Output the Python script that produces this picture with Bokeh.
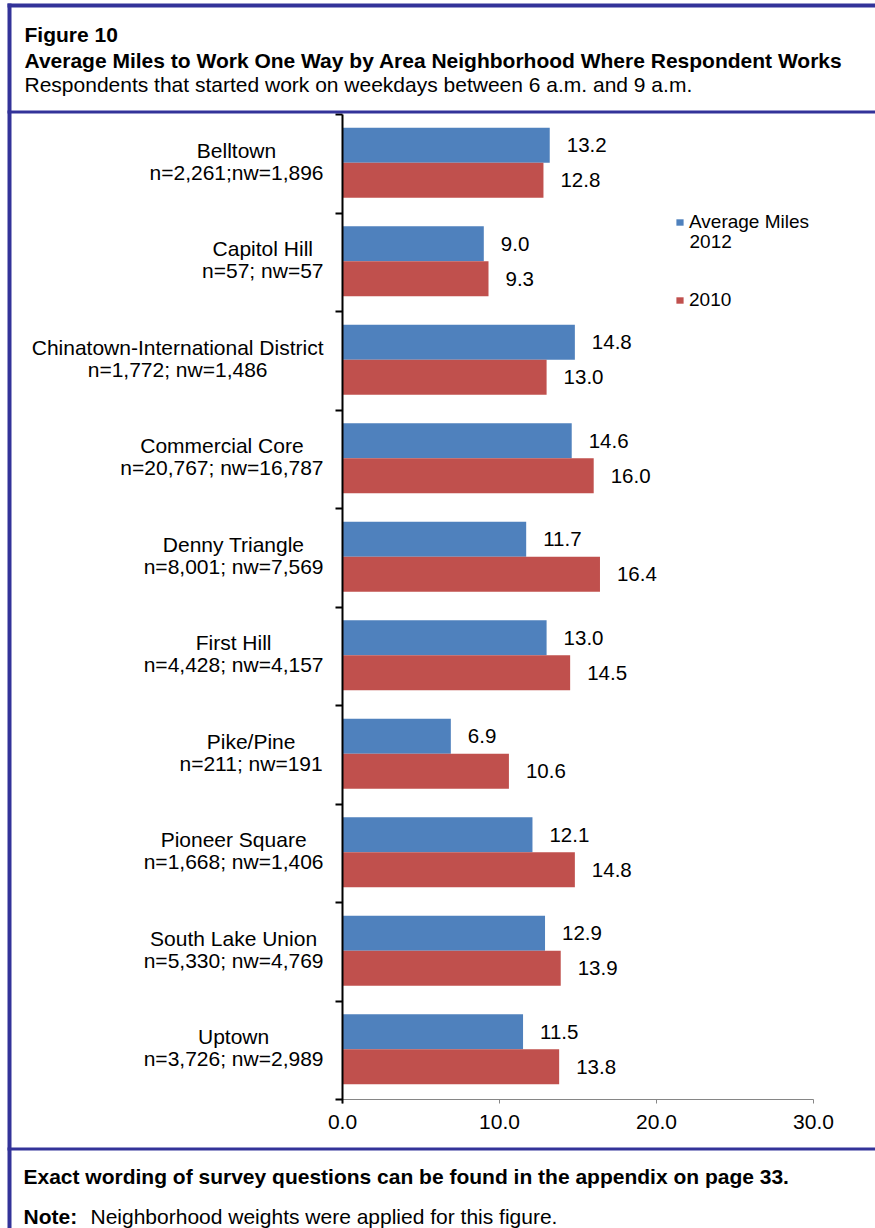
from bokeh.plotting import figure
from bokeh.models import (Range1d, LinearAxis, FixedTicker, PrintfTickFormatter,
                          ColumnDataSource, LabelSet, Label, BoxAnnotation,
                          Legend, LegendItem)
from bokeh.core.properties import value
from bokeh.embed import file_html
from bokeh.resources import INLINE

# ---- data -------------------------------------------------------------
neighborhoods = ["Belltown", "Capitol Hill", "Chinatown-International District",
                 "Commercial Core", "Denny Triangle", "First Hill", "Pike/Pine",
                 "Pioneer Square", "South Lake Union", "Uptown"]
sample_sizes = ["n=2,261;nw=1,896", "n=57; nw=57", "n=1,772; nw=1,486",
                "n=20,767; nw=16,787", "n=8,001; nw=7,569", "n=4,428; nw=4,157",
                "n=211; nw=191", "n=1,668; nw=1,406", "n=5,330; nw=4,769",
                "n=3,726; nw=2,989"]
miles_2012 = [13.2, 9.0, 14.8, 14.6, 11.7, 13.0, 6.9, 12.1, 12.9, 11.5]
miles_2010 = [12.8, 9.3, 13.0, 16.0, 16.4, 14.5, 10.6, 14.8, 13.9, 13.8]
x_ticks = [0, 10, 20, 30]
x_max = 30

# ---- page geometry ----------------------------------------------------
W, H = 875, 1228
PL, PR, PT, PB = 342, 813, 114, 1099      # plotting area edges on the page
BORDER = "#333399"
BLUE, RED = "#4F81BD", "#C0504D"
FONT = "Liberation Sans"
LABEL_SHIFT = 7                            # Label box sits this far below its baseline


def sx(px):
    """page x (from left) -> screen x"""
    return px


def sy(py):
    """page y (from top) -> screen y (measured upwards)"""
    return H - py


# Arial / Liberation Sans advance widths (1/1000 em) for label centring
_UP = dict(zip("ABCDEFGHIJKLMNOPQRSTUVWXYZ",
               [667, 667, 722, 722, 667, 611, 778, 722, 278, 500, 667, 556, 833,
                722, 778, 667, 778, 722, 667, 611, 722, 667, 944, 667, 667, 611]))
_LO = dict(zip("abcdefghijklmnopqrstuvwxyz",
               [556, 556, 500, 556, 556, 278, 556, 556, 222, 222, 500, 222, 833,
                556, 556, 556, 556, 333, 500, 278, 556, 500, 722, 500, 500, 500]))
_PUNCT = {" ": 278, "-": 333, ",": 278, ";": 278, "=": 584, "/": 278, ".": 278, ":": 278}
WIDTHS = {**_UP, **_LO, **_PUNCT, **{d: 556 for d in "0123456789"}}


def text_width(s, size):
    return sum(WIDTHS.get(c, 556) for c in s) * size / 1000.0


n = len(neighborhoods)
centers = [n - i - 0.5 for i in range(n)]
LABEL_SIZE = 21
label_x = [sx(323 - max(text_width(a, LABEL_SIZE), text_width(b, LABEL_SIZE)) / 2)
           for a, b in zip(neighborhoods, sample_sizes)]

src = ColumnDataSource(dict(
    y=centers,
    y12=[c + 0.188 for c in centers],
    y10=[c - 0.168 for c in centers],
    v12=miles_2012,
    v10=miles_2010,
    t12=["%.1f" % v for v in miles_2012],
    t10=["%.1f" % v for v in miles_2010],
    lx=label_x,
    name=neighborhoods,
    size=sample_sizes,
))

# the frame spans the whole page; ranges are set so that 0..x_max and the
# ten category bands land in the plotting area
px_x = (PR - PL) / x_max
px_y = (PB - PT) / n
x_range = Range1d(-PL / px_x, (W - PL) / px_x)
y_range = Range1d(-(H - PB) / px_y, n + PT / px_y)

p = figure(width=W, height=H, x_range=x_range, y_range=y_range,
           x_axis_type=None, y_axis_type=None, output_backend="svg",
           toolbar_location=None, min_border=0)
p.outline_line_color = None
p.background_fill_color = "white"
p.border_fill_color = "white"

r12 = p.hbar(y="y12", right="v12", left=0, height=0.355, source=src,
             fill_color=BLUE, line_color=None)
r10 = p.hbar(y="y10", right="v10", left=0, height=0.355, source=src,
             fill_color=RED, line_color=None)

# value axis
xaxis = LinearAxis(ticker=FixedTicker(ticks=x_ticks, minor_ticks=[]),
                   formatter=PrintfTickFormatter(format="%.1f"),
                   fixed_location=0, bounds=(0, x_max),
                   axis_line_color="#868686", axis_line_width=1,
                   major_tick_line_color="#868686", major_tick_out=4,
                   major_tick_in=0, minor_tick_line_color=None,
                   major_label_standoff=11, major_label_text_font=FONT,
                   major_label_text_font_size="21px",
                   major_label_text_color="black")
p.add_layout(xaxis, "below")

# category axis: black line with ticks between the groups, running a few
# pixels past the value axis
yaxis = LinearAxis(ticker=FixedTicker(ticks=list(range(n + 1)), minor_ticks=[]),
                   fixed_location=0, bounds=(-4 / px_y, n),
                   axis_line_color="black", axis_line_width=2,
                   major_tick_line_color="black", major_tick_line_width=2,
                   major_tick_out=7, major_tick_in=0,
                   minor_tick_line_color=None, major_label_text_color=None,
                   major_label_text_font_size="1px")
p.add_layout(yaxis, "left")

# value labels at bar ends
for ycol, tcol, xcol in (("y12", "t12", "v12"), ("y10", "t10", "v10")):
    p.add_layout(LabelSet(x=xcol, y=ycol, text=tcol, source=src, x_offset=17,
                          text_baseline="middle", text_align="left",
                          text_font=value(FONT), text_font_size=value("20.5px"),
                          text_color="black"))

# neighbourhood labels, two centred lines to the left of the axis
for col, off in (("name", 6), ("size", -16)):
    p.add_layout(LabelSet(x="lx", y="y", text=col, source=src, x_units="screen",
                          y_offset=off, text_align="center",
                          text_baseline="alphabetic", text_font=value(FONT),
                          text_font_size=value("%dpx" % LABEL_SIZE),
                          text_color="black"))

legend = Legend(items=[LegendItem(label="Average Miles", renderers=[r12]),
                       LegendItem(label="2010", renderers=[r10])],
                location=(sx(675), sy(311)), orientation="vertical",
                glyph_width=9, glyph_height=8, label_standoff=5, spacing=56,
                padding=0, margin=0, border_line_color=None,
                background_fill_alpha=0, label_text_font=FONT,
                label_text_font_size="19px", label_text_color="black")
p.add_layout(legend)

# page frame lines
for left, right, top, bottom in ((7, W, 3, 7), (7, 11, 3, H),
                                 (7, W, 110, 113), (7, W, 1147, 1150)):
    p.add_layout(BoxAnnotation(left=sx(left), right=sx(right), top=sy(top),
                               bottom=sy(bottom), left_units="screen",
                               right_units="screen", top_units="screen",
                               bottom_units="screen", fill_color=BORDER,
                               fill_alpha=1, line_color=None))


def page_text(txt, px, py, bold=False, size="21px"):
    p.add_layout(Label(x=sx(px), y=sy(py - LABEL_SHIFT), x_units="screen",
                       y_units="screen", text=txt, text_font=FONT,
                       text_font_size=size,
                       text_font_style="bold" if bold else "normal",
                       text_baseline="alphabetic", text_align="left",
                       text_color="black"))


page_text("2012", 689, 248, size="19px")
page_text("Figure 10", 24, 41, bold=True)
page_text("Average Miles to Work One Way by Area Neighborhood Where Respondent Works",
          24, 67, bold=True)
page_text("Respondents that started work on weekdays between 6 a.m. and 9 a.m.", 24, 91)
page_text("Exact wording of survey questions can be found in the appendix on page 33.",
          23, 1183, bold=True)
page_text("Note:", 23, 1223, bold=True)
page_text("Neighborhood weights were applied for this figure.", 90, 1223)

open("out.html", "w").write(file_html(p, INLINE))
